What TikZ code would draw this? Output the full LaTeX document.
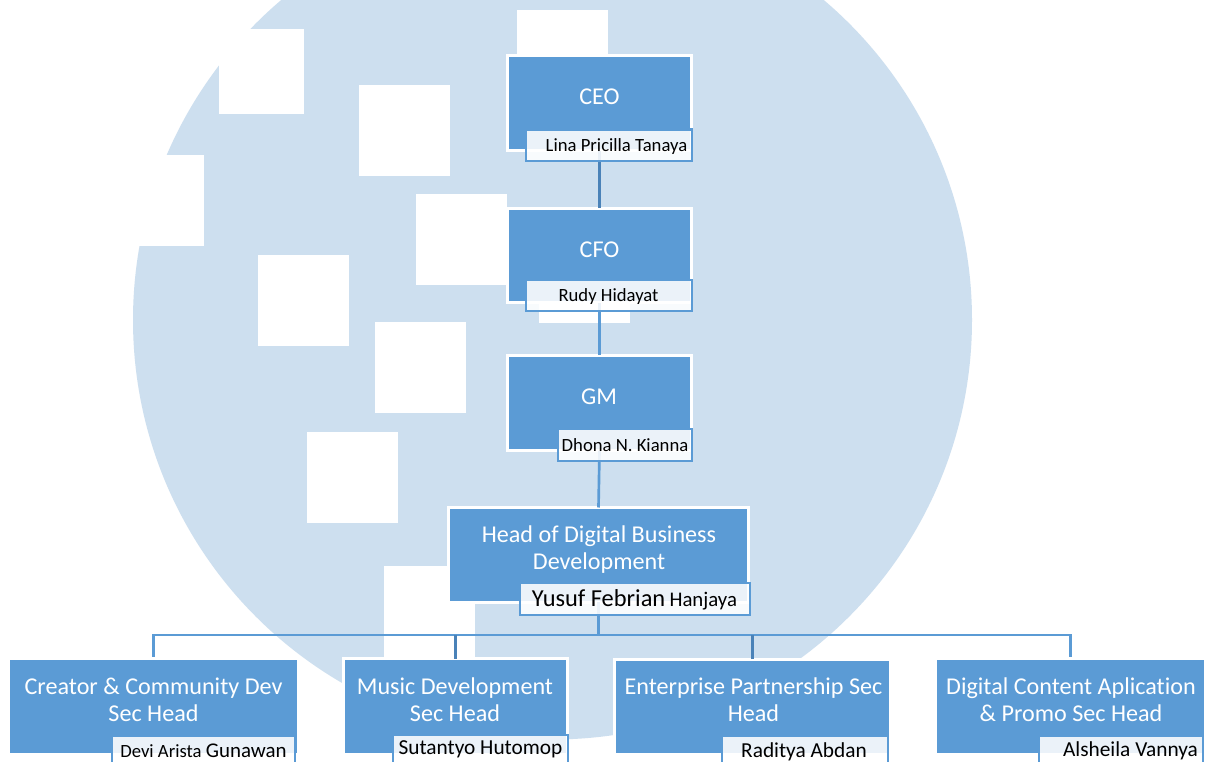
\documentclass[tikz,border=0pt]{standalone}
\usepackage{fontspec}
\setmainfont[Ligatures=CommonOff]{Carlito}
\definecolor{disc}{HTML}{CDDFEF}
\definecolor{boxblue}{HTML}{5B9BD5}
\definecolor{linedark}{HTML}{4A82B8}
\tikzset{
  x=0.75pt,y=-0.75pt,
  hole/.style={fill=white,draw=none},
  orgbox/.style={fill=boxblue,draw=white,line width=2.25pt,inner sep=0pt,outer sep=0pt},
  namebox/.style={fill=white,fill opacity=.88,draw=boxblue,draw opacity=1,line width=2pt,inner sep=0pt,outer sep=0pt},
  titletext/.style={text=white,align=center,font=\fontsize{18.1}{20}\selectfont,inner sep=0pt},
  nametext/.style={text=black,font=\fontsize{14}{16}\selectfont,inner sep=0pt},
  namebig/.style={nametext,font=\fontsize{16}{18}\selectfont},
  conn/.style={draw=boxblue,line width=2pt},
  conndark/.style={draw=linedark,line width=2.2pt}
}
% box: name, x1, y1, x2, y2 (reference pixels)
\newcommand{\orgrect}[5]{\node[orgbox,minimum width=(#4-#2)*0.75pt,minimum height=(#5-#3)*0.75pt] (#1) at ({(#2+#4)/2},{(#3+#5)/2}) {};}
\newcommand{\namerect}[5]{\node[namebox,minimum width=(#4-#2)*0.75pt,minimum height=(#5-#3)*0.75pt] (#1) at ({(#2+#4)/2},{(#3+#5)/2}) {};}
\begin{document}
\begin{tikzpicture}
\useasboundingbox (0,0) rectangle (1210,762);
\clip (0,0) rectangle (1210,762);
\fill[white] (0,0) rectangle (1210,762);
% background disc and its cut-outs
\fill[disc] (552.5,320) circle[radius=419.5*0.75pt];
\fill[hole] (517,10) rectangle (608,60);
\fill[hole] (219,29) rectangle (304,114);
\fill[hole] (359,85) rectangle (450,176);
\fill[hole] (113,155) rectangle (204,246);
\fill[hole] (416,194) rectangle (507,285);
\fill[hole] (258,255) rectangle (349,346);
\fill[hole] (375,322) rectangle (466,413);
\fill[hole] (307,432) rectangle (398,523);
\fill[hole] (384,566) rectangle (475,660);
\fill[hole] (539,300) rectangle (630,323);
% boxes
\orgrect{ceo}{507.5}{55.5}{691.5}{151}
\orgrect{cfo}{507.5}{208.5}{691.5}{303}
\orgrect{gm}{507.5}{355.5}{691.5}{451}
\orgrect{head}{448.5}{507.5}{748.5}{602}
\orgrect{creator}{9.5}{660}{297.5}{753}
\orgrect{music}{343}{658.5}{567.5}{754}
\orgrect{enterprise}{614.5}{659}{890}{754}
\orgrect{digital}{936.5}{660}{1204}{753}
\fill[boxblue] (10,660) rectangle (297,753);
\fill[boxblue] (937,660) rectangle (1204,753);
% connectors
\coordinate (bus) at (head.south |- 0,635);
\draw[conndark] (ceo.south) -- (cfo.north);
\draw[conn] (cfo.south) -- (gm.north);
\draw[conn] (gm.south) -- (head.north);
\draw[conn] (head.south) -- (bus);
\draw[conn] (creator.north) ++(0,-3.5) coordinate (creatortop) (creatortop) -- (creatortop |- bus) -- (digital.north |- bus) -- (digital.north |- creatortop);
\draw[conndark] (music.north) -- (music.north |- bus);
\draw[conndark] (enterprise.north) -- (enterprise.north |- bus);
% name plates
\namerect{ceoname}{526}{129.5}{692}{161}
\namerect{cfoname}{526}{280}{692}{311}
\namerect{gmname}{558}{429}{692}{461}
\namerect{headname}{520}{583}{750}{615}
\namerect{creatorname}{112}{736}{295}{775}
\namerect{musicname}{393}{735}{568}{775}
\namerect{entname}{722}{736}{888}{775}
\namerect{digname}{1039}{736}{1203}{775}
% titles
\node[titletext] (ceotitle) at (599.5,96.5) {CEO};
\node[titletext] (cfotitle) at (599.5,249.5) {CFO};
\node[titletext] (gmtitle) at (599,396.5) {GM};
\node[titletext] (headtitle) at (599,549.5) {Head of Digital Business\\Development};
\node[titletext] (creatortitle) at (153.5,699.5) {Creator \& Community Dev\\Sec Head};
\node[titletext] (musictitle) at (455,699.5) {Music Development\\Sec Head};
\node[titletext] (enttitle) at (753.5,699.5) {Enterprise Partnership Sec\\Head};
\node[titletext] (digtitle) at (1071,699.5) {Digital Content Aplication\\\& Promo Sec Head};
% names
\node[nametext] (n1) at (616.5,146.5) {Lina Pricilla Tanaya};
\node[nametext] (n2) at (608.5,296.5) {Rudy Hidayat};
\node[nametext] (n3) at (625,445) {Dhona N. Kianna};
\node[nametext] (n4) at (634.5,600) {{\fontsize{18.3}{20}\selectfont Yusuf Febrian} {\fontsize{15.6}{18}\selectfont Hanjaya}};
\node[nametext] (n5) at (203.5,751) {Devi Arista {\fontsize{15.7}{18}\selectfont Gunawan}};
\node[namebig] (n6) at (480.5,749) {Sutantyo Hutomop};
\node[namebig] (n7) at (804,751.5) {Raditya Abdan};
\node[namebig] (n8) at (1130.5,750.5) {Alsheila Vannya};
\end{tikzpicture}
\end{document}
